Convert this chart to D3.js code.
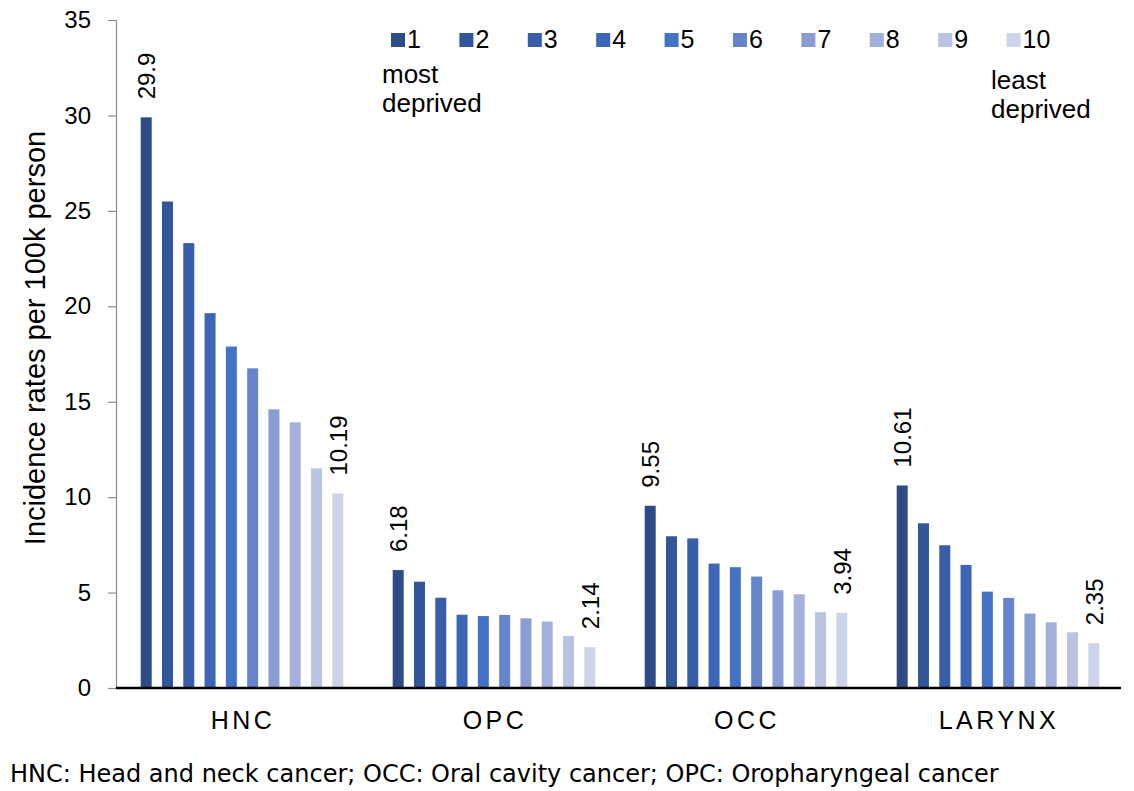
<!DOCTYPE html>
<html>
<head>
<meta charset="utf-8">
<script src="https://cdn.jsdelivr.net/npm/d3@7"></script>
<style>
  html, body { margin: 0; padding: 0; background: #fff; }
  svg { display: block; font-family: "Liberation Sans", Arial, sans-serif; }
</style>
</head>
<body>
<svg id="chart" width="1134" height="791"></svg>
<script>
// Incidence per 100k by deprivation decile (1 = most deprived, 10 = least deprived)
const groups = ["HNC", "OPC", "OCC", "LARYNX"];
const deciles = ["1", "2", "3", "4", "5", "6", "7", "8", "9", "10"];
const hnc    = [29.9, 25.49, 23.31, 19.64, 17.89, 16.75, 14.6, 13.92, 11.51, 10.19];
const opc    = [6.18, 5.57, 4.73, 3.84, 3.77, 3.83, 3.65, 3.48, 2.73, 2.14];
const occ    = [9.55, 7.95, 7.84, 6.52, 6.33, 5.84, 5.12, 4.91, 3.97, 3.94];
const larynx = [10.61, 8.63, 7.48, 6.45, 5.05, 4.72, 3.9, 3.44, 2.92, 2.35];
const yTicks = [0, 5, 10, 15, 20, 25, 30, 35];
const colors = ["#2D4C85", "#32569A", "#385EAA", "#3D67B6", "#4472C4",
                "#6584CA", "#899DD3", "#A2B0DB", "#B9C3E2", "#CDD3E8"];
const footnote = "HNC: Head and neck cancer; OCC: Oral cavity cancer; OPC: Oropharyngeal cancer";

const seriesByGroup = { HNC: hnc, OPC: opc, OCC: occ, LARYNX: larynx };

const svg = d3.select("#chart");
const plotLeft = 116, plotRight = 1124, plotTop = 20, plotBottom = 688;

const x0 = d3.scaleBand().domain(groups).range([plotLeft, plotRight]).padding(0);
const x1 = d3.scaleBand().domain(deciles).range([0, x0.bandwidth()])
  .paddingInner(0.484).paddingOuter(1.16);
const y = d3.scaleLinear().domain([0, 35]).range([plotBottom, plotTop]);
const color = d3.scaleOrdinal().domain(deciles).range(colors);

// Y axis
const yAxis = svg.append("g")
  .attr("transform", `translate(${plotLeft},0)`)
  .call(d3.axisLeft(y).tickValues(yTicks).tickSize(8).tickPadding(17));
yAxis.select(".domain").attr("stroke", "#8c8c8c").attr("stroke-width", 1.2);
yAxis.selectAll(".tick line").attr("stroke", "#8c8c8c").attr("stroke-width", 1.2);
yAxis.selectAll(".tick text")
  .attr("font-size", 24).attr("fill", "#000")
  .attr("font-family", "'Liberation Sans', Arial, sans-serif");

// Y axis title
svg.append("text")
  .attr("transform", `translate(45,338) rotate(-90)`)
  .attr("text-anchor", "middle")
  .attr("font-size", 29)
  .text("Incidence rates per 100k person");

// Bars
const gGroups = svg.append("g").selectAll("g")
  .data(groups).join("g")
  .attr("transform", d => `translate(${x0(d)},0)`);

gGroups.selectAll("rect")
  .data(g => seriesByGroup[g].map((v, i) => ({ decile: deciles[i], value: v })))
  .join("rect")
  .attr("x", d => x1(d.decile))
  .attr("width", x1.bandwidth())
  .attr("y", d => y(d.value))
  .attr("height", d => y(0) - y(d.value))
  .attr("fill", d => color(d.decile));

// Value labels on the most and least deprived deciles
gGroups.selectAll("text.val")
  .data(g => seriesByGroup[g].map((v, i) => ({ decile: deciles[i], value: v }))
    .filter(d => d.decile === "1" || d.decile === "10"))
  .join("text")
  .attr("class", "val")
  .attr("transform", d => `translate(${x1(d.decile) + x1.bandwidth() / 2 + 9},${y(d.value) - 18}) rotate(-90)`)
  .attr("font-size", 24)
  .attr("text-anchor", "start")
  .text(d => String(d.value));

// Baseline
svg.append("line")
  .attr("x1", plotLeft).attr("x2", 1121)
  .attr("y1", y(0)).attr("y2", y(0))
  .attr("stroke", "#000").attr("stroke-width", 2.5);

// Category labels
svg.append("g").selectAll("text")
  .data(groups).join("text")
  .attr("x", d => x0(d) + x0.bandwidth() / 2 + 1)
  .attr("y", 729)
  .attr("text-anchor", "middle")
  .attr("font-size", 25)
  .attr("letter-spacing", 3.5)
  .text(d => d);

// Legend
const legend = svg.append("g").selectAll("g")
  .data(deciles).join("g")
  .attr("transform", (d, i) => `translate(${391 + i * 68.4},0)`);
legend.append("rect")
  .attr("x", 0).attr("y", 33).attr("width", 14).attr("height", 14)
  .attr("fill", d => color(d));
legend.append("text")
  .attr("x", 16).attr("y", 48)
  .attr("font-size", 25)
  .text(d => d);

// Legend end annotations
const note = svg.append("g").attr("font-size", 26);
note.append("text").attr("x", 382).attr("y", 83).text("most");
note.append("text").attr("x", 382).attr("y", 112).text("deprived");
note.append("text").attr("x", 991).attr("y", 89).text("least");
note.append("text").attr("x", 991).attr("y", 118).text("deprived");

// Footnote
svg.append("text")
  .attr("x", 10).attr("y", 782)
  .attr("font-family", "'DejaVu Sans', sans-serif")
  .attr("font-size", 24)
  .text(footnote);
</script>
</body>
</html>
